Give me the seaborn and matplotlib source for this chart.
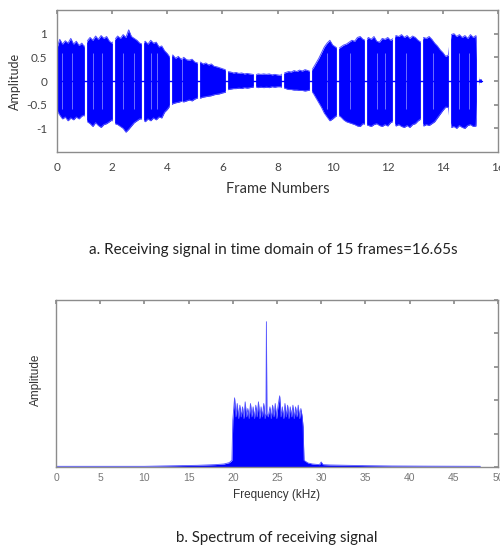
import matplotlib
matplotlib.use("Agg")
import matplotlib.pyplot as plt
import numpy as np
import pandas as pd
import seaborn as sns

# --- time-domain envelope, read every 0.1 frame off the picture ---
frame_pos = np.round(np.arange(0, 15.45, 0.1), 1)
env_upper = [0.70, 0.88, 0.78, 0.85, 0.80, 0.90, 0.78, 0.84, 0.75, 0.80,
             0.72, 0.85, 0.92, 0.86, 0.95, 0.88, 0.96, 0.90, 0.94, 0.84,
             0.80, 0.88, 0.95, 0.90, 0.98, 0.92, 1.08, 0.94, 0.90, 0.86,
             0.80, 0.78, 0.84, 0.78, 0.86, 0.80, 0.82, 0.72, 0.74, 0.64,
             0.58, 0.50, 0.55, 0.48, 0.52, 0.46, 0.50, 0.45, 0.44, 0.46,
             0.40, 0.38, 0.40, 0.36, 0.38, 0.34, 0.36, 0.31, 0.30, 0.28,
             0.26, 0.24, 0.20, 0.19, 0.17, 0.18, 0.16, 0.17, 0.15, 0.16,
             0.15, 0.14, 0.13, 0.15, 0.14, 0.15, 0.14, 0.15, 0.13, 0.14,
             0.13, 0.12, 0.16, 0.18, 0.20, 0.19, 0.22, 0.20, 0.23, 0.21,
             0.24, 0.22, 0.20, 0.28, 0.38, 0.48, 0.60, 0.72, 0.80, 0.86,
             0.76, 0.72, 0.68, 0.72, 0.76, 0.78, 0.82, 0.86, 0.84, 0.92,
             0.94, 0.88, 0.86, 0.92, 0.88, 0.94, 0.84, 0.82, 0.90, 0.88,
             0.92, 0.86, 0.90, 0.96, 0.94, 0.98, 0.92, 0.96, 0.90, 0.95,
             0.92, 0.86, 0.82, 0.92, 0.90, 0.94, 0.88, 0.80, 0.74, 0.66,
             0.60, 0.52, 0.55, 0.98, 1.00, 0.94, 0.98, 0.92, 0.96, 0.90,
             0.98, 0.92, 0.96, 0.03, 0.03]
env_lower = [0.62, 0.72, 0.80, 0.76, 0.84, 0.78, 0.82, 0.76, 0.80, 0.74,
             0.72, 0.86, 0.90, 0.96, 0.88, 0.94, 0.98, 0.92, 0.90, 0.86,
             0.82, 0.90, 0.92, 0.96, 1.00, 1.08, 1.02, 0.95, 0.88, 0.84,
             0.80, 0.80, 0.86, 0.80, 0.84, 0.78, 0.82, 0.76, 0.78, 0.66,
             0.60, 0.52, 0.48, 0.46, 0.45, 0.43, 0.44, 0.42, 0.40, 0.42,
             0.38, 0.36, 0.36, 0.34, 0.33, 0.32, 0.31, 0.29, 0.28, 0.27,
             0.25, 0.24, 0.18, 0.17, 0.16, 0.16, 0.15, 0.16, 0.14, 0.15,
             0.14, 0.13, 0.12, 0.14, 0.13, 0.14, 0.13, 0.14, 0.12, 0.13,
             0.12, 0.12, 0.14, 0.16, 0.18, 0.18, 0.19, 0.19, 0.20, 0.20,
             0.21, 0.20, 0.19, 0.26, 0.36, 0.46, 0.56, 0.68, 0.76, 0.84,
             0.80, 0.75, 0.72, 0.76, 0.82, 0.86, 0.88, 0.90, 0.92, 0.95,
             0.96, 0.90, 0.92, 0.94, 0.96, 0.92, 0.90, 0.94, 0.96, 0.92,
             0.95, 0.88, 0.85, 0.95, 0.92, 0.96, 0.98, 0.94, 0.98, 0.92,
             0.90, 0.84, 0.80, 0.95, 0.92, 0.94, 0.90, 0.86, 0.78, 0.70,
             0.62, 0.55, 0.56, 0.98, 0.96, 1.00, 0.94, 0.98, 1.00, 0.94,
             0.92, 0.96, 0.95, 0.03, 0.03]
# silent gaps between frames and thin dropouts inside frames
gap_pos = [1.05, 2.08, 3.11, 4.14, 5.17, 6.18, 7.2, 8.2, 9.2,
           10.2, 11.22, 12.24, 13.26, 14.26, 15.27]
streak_pos = [0.18, 0.55, 1.32, 1.62, 2.38, 2.78, 3.42, 3.62, 4.55, 9.8,
              10.62, 11.6, 11.9, 12.65, 13.65, 14.6, 14.95]
signal_end = 15.42

# --- spectrum ---
freq_khz = [0, 5, 10, 12, 14, 16, 18, 19, 19.6, 19.9,
            20.0, 20.2, 20.35, 20.5, 20.65, 20.8, 20.95, 21.1, 21.25, 21.4,
            21.55, 21.7, 21.85, 22.0, 22.15, 22.3, 22.45, 22.6, 22.75, 22.9,
            23.05, 23.2, 23.35, 23.5, 23.65, 23.75, 23.8, 23.85, 24.0, 24.2,
            24.35, 24.5, 24.65, 24.8, 24.95, 25.1, 25.3, 25.45, 25.6, 25.75,
            25.9, 26.05, 26.2, 26.35, 26.5, 26.65, 26.8, 26.95, 27.1, 27.25,
            27.4, 27.55, 27.7, 27.85, 27.95, 28.05, 28.5, 29.0, 29.8, 30.0,
            30.2, 31, 33, 35, 38, 42, 48]
spec_amp = [0.02, 0.02, 0.02, 0.03, 0.04, 0.05, 0.07, 0.09, 0.13, 0.20,
            1.40, 2.07, 1.50, 1.90, 1.45, 1.85, 1.50, 1.80, 1.45, 1.95,
            1.50, 1.75, 1.45, 1.90, 1.50, 1.80, 1.45, 1.85, 1.50, 1.95,
            1.45, 1.80, 1.50, 1.90, 1.45, 1.60, 4.35, 1.60, 1.50, 1.80,
            1.45, 1.85, 1.50, 1.90, 1.45, 1.80, 2.13, 1.50, 1.80, 1.45,
            1.90, 1.50, 1.85, 1.45, 1.80, 1.50, 1.85, 1.45, 1.80, 1.50,
            1.85, 1.45, 1.75, 1.50, 1.20, 0.20, 0.12, 0.09, 0.07, 0.15,
            0.07, 0.06, 0.05, 0.04, 0.03, 0.025, 0.02]

sns.set_theme(style="white")
plt.rcParams["font.family"] = ["Lato", "DejaVu Sans"]
ARIAL = ["Liberation Sans", "DejaVu Sans"]

BLUE = "#0000ff"
EDGE = "#5050ff"
SPINE = "#8c8c8c"

fig = plt.figure(figsize=(5.0, 5.49), dpi=100)
fig.patch.set_facecolor("white")

# ---------------- top: time domain ----------------
ax1 = fig.add_axes([0.114, 0.7231, 0.882, 0.2587])
sig = pd.DataFrame({"frame": frame_pos,
                    "up": env_upper,
                    "lo": [-v for v in env_lower]})
ax1.fill_between(sig["frame"], sig["lo"], sig["up"], color=BLUE, lw=0)
sns.lineplot(data=sig, x="frame", y="up", ax=ax1, color=EDGE, lw=0.7)
sns.lineplot(data=sig, x="frame", y="lo", ax=ax1, color=EDGE, lw=0.7)
for s in streak_pos:
    ax1.vlines(s, -0.6, 0.6, color="white", lw=0.5, alpha=0.6)
ax1.vlines(gap_pos, -1.2, 1.2, color="white", lw=1.6)
ax1.plot([0, signal_end], [0, 0], color=BLUE, lw=1.0)

ax1.set_xlim(0, 16)
ax1.set_ylim(-1.5, 1.5)
ax1.set_xticks(range(0, 17, 2))
ax1.set_yticks([-1, -0.5, 0, 0.5, 1])
ax1.set_yticklabels(["-1", "-0.5", "0", "0.5", "1"])
ax1.set_xlabel("Frame Numbers", fontsize=10.5, color="#333333", labelpad=7)
ax1.set_ylabel("Amplitude", fontsize=9, color="#333333", labelpad=4)
ax1.tick_params(direction="in", length=3, color=SPINE, labelsize=8.5,
                labelcolor="#444444", top=True, right=True, pad=7,
                labeltop=False, labelright=False)
for sp in ax1.spines.values():
    sp.set_color(SPINE)
    sp.set_linewidth(1.0)

fig.text(0.546, 1 - 250 / 549, "a. Receiving signal in time domain of 15 frames=16.65s",
         ha="center", va="center", fontsize=11, color="#222222")

# ---------------- bottom: spectrum ----------------
ax2 = fig.add_axes([0.112, 0.1494, 0.884, 0.3042])
spec = pd.DataFrame({"freq": freq_khz, "amp": spec_amp})
ax2.fill_between(spec["freq"], 0, spec["amp"], color=BLUE, lw=0)
sns.lineplot(data=spec, x="freq", y="amp", ax=ax2, color=EDGE, lw=0.6)

ax2.set_xlim(0, 50)
ax2.set_ylim(0, 5)
ax2.set_xticks(range(0, 51, 5))
ax2.set_yticks([0, 1, 2, 3, 4, 5])
ax2.set_yticklabels([])
ax2.set_xlabel("Frequency (kHz)", fontsize=8.5, family=ARIAL,
               color="#333333", labelpad=5)
ax2.set_ylabel("Amplitude", fontsize=8.5, family=ARIAL, color="#333333")
ax2.yaxis.set_label_coords(-0.032, 0.52)
ax2.tick_params(direction="in", length=3, color=SPINE, labelsize=7.5,
                labelcolor="#777777", top=True, right=True, pad=4,
                labeltop=False, labelright=False)
for lab in ax2.get_xticklabels():
    lab.set_family(ARIAL)
for sp in ax2.spines.values():
    sp.set_color(SPINE)
    sp.set_linewidth(1.0)

fig.text(0.554, 1 - 538 / 549, "b. Spectrum of receiving signal",
         ha="center", va="center", fontsize=10.8, color="#222222")

fig.savefig("out.png", dpi=100, facecolor="white")
